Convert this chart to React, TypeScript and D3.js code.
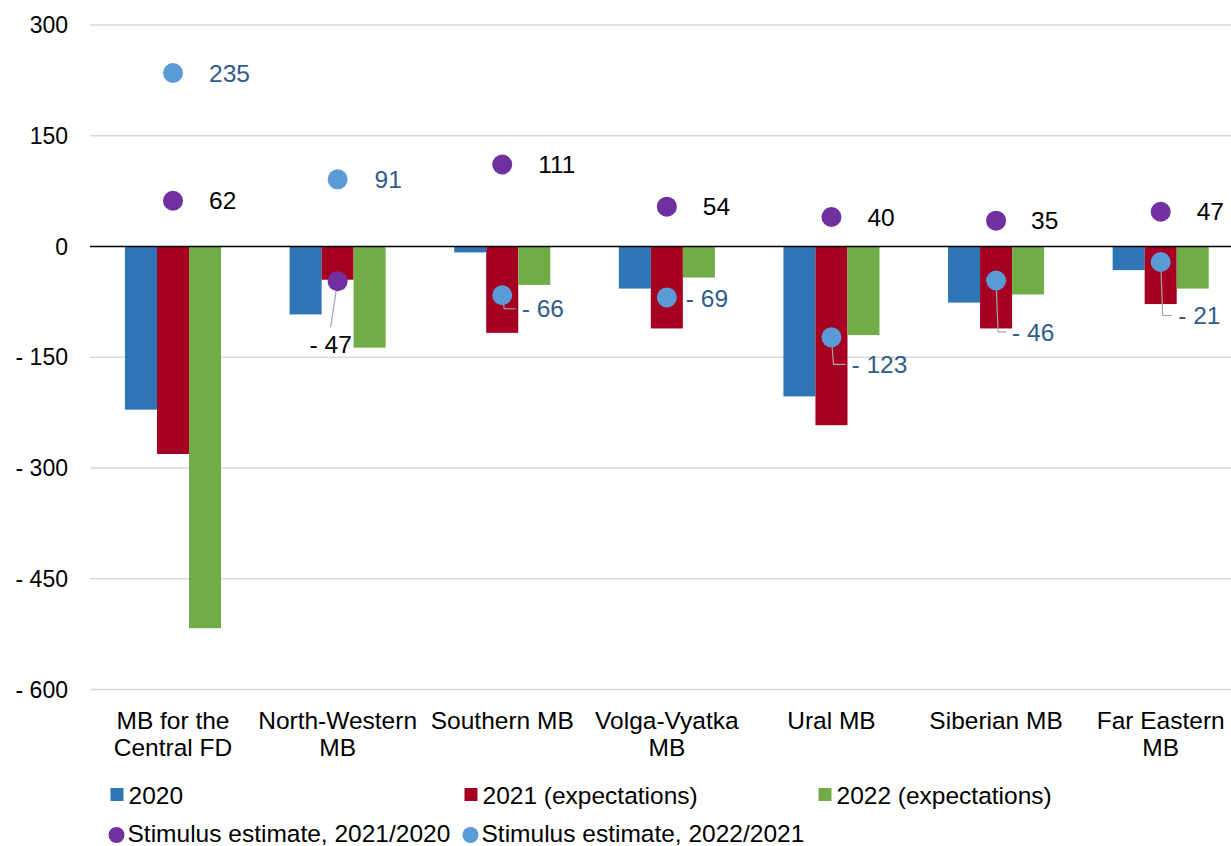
import React from 'react';
import * as d3 from 'd3';

// regions (category labels, split in lines as drawn)
const categories = [
  ['MB for the', 'Central FD'],
  ['North-Western', 'MB'],
  ['Southern MB'],
  ['Volga-Vyatka', 'MB'],
  ['Ural MB'],
  ['Siberian MB'],
  ['Far Eastern', 'MB'],
];

const values2020 = [-221, -92, -8, -57, -203, -76, -32];
const values2021 = [-281, -45, -117, -111, -242, -111, -78];
const values2022 = [-517, -137, -52, -42, -120, -65, -57];

const stimulus2021 = [62, -47, 111, 54, 40, 35, 47];
const stimulus2022 = [235, 91, -66, -69, -123, -46, -21];

const yTicks = [-600, -450, -300, -150, 0, 150, 300];

const barSeries = [
  { name: '2020', values: values2020, color: '#2E75B6' },
  { name: '2021 (expectations)', values: values2021, color: '#A50021' },
  { name: '2022 (expectations)', values: values2022, color: '#70AD47' },
];

// label placement for the point labels (relative to the point, px)
const labels2021 = [
  { dx: 36, dy: 0 },
  { dx: -28, dy: 63, leader: 'straight' },
  { dx: 36, dy: 0 },
  { dx: 36, dy: 0 },
  { dx: 36, dy: 0 },
  { dx: 35, dy: 0 },
  { dx: 36, dy: 0 },
];
const labels2022 = [
  { dx: 36, dy: 0 },
  { dx: 37, dy: 0 },
  { dx: 19.5, dy: 13.5, leader: 'elbow' },
  { dx: 19, dy: 1 },
  { dx: 20, dy: 27, leader: 'elbow' },
  { dx: 16, dy: 51.5, leader: 'elbow' },
  { dx: 17.5, dy: 53.5, leader: 'elbow' },
];

const pointSeries = [
  { name: 'Stimulus estimate, 2021/2020', values: stimulus2021, color: '#7030A0', text: '#000000', labels: labels2021 },
  { name: 'Stimulus estimate, 2022/2021', values: stimulus2022, color: '#5B9BD5', text: '#2F5C8A', labels: labels2022 },
];

const W = 1231;
const H = 846;
const FONT = '"Liberation Sans", Arial, sans-serif';

const fmt = (v: number) => (v < 0 ? '- ' + Math.abs(v) : String(v));

export default function App() {
  const idx = categories.map((_, i) => i);

  const x0 = d3.scaleBand<number>()
    .domain(idx)
    .range([90.7, 1243])
    .paddingInner(0)
    .paddingOuter(0);

  const x1 = d3.scaleBand<string>()
    .domain(barSeries.map(s => s.name))
    .range([0, x0.bandwidth()])
    .paddingInner(0)
    .paddingOuter(1.07);

  const y = d3.scaleLinear().domain([-600, 300]).range([689.5, 25]);

  const cx = (i: number) => (x0(i) as number) + x0.bandwidth() / 2;

  return (
    <svg width={W} height={H} style={{ position: 'absolute', left: 0, top: 0, background: '#fff' }}
      fontFamily={FONT}>
      {/* gridlines */}
      {yTicks.filter(t => t !== 0).map(t => (
        <line key={'g' + t} x1={90} x2={W} y1={y(t)} y2={y(t)} stroke="#D9D9D9" strokeWidth={1.3} />
      ))}
      {/* y tick labels */}
      {yTicks.map(t => (
        <text key={'t' + t} x={68} y={y(t)} dy="0.35em" textAnchor="end" fontSize={23} fill="#000">
          {fmt(t)}
        </text>
      ))}

      {/* bars */}
      {barSeries.map(s => (
        <g key={s.name}>
          {s.values.map((v, i) => (
            <rect key={i}
              x={(x0(i) as number) + (x1(s.name) as number)}
              y={y(Math.max(0, v))}
              width={x1.bandwidth()}
              height={Math.abs(y(v) - y(0))}
              fill={s.color} />
          ))}
        </g>
      ))}

      {/* zero line */}
      <line x1={90} x2={W} y1={y(0)} y2={y(0)} stroke="#000" strokeWidth={1.3} />

      {/* leader lines */}
      {pointSeries.map(s => (
        <g key={'l' + s.name} stroke="#A6A6A6" strokeWidth={1.2} fill="none">
          {s.values.map((v, i) => {
            const lab = s.labels[i];
            const px = cx(i);
            const py = y(v);
            const lx = px + lab.dx;
            const ly = py + lab.dy;
            if (lab.leader === 'elbow') {
              return <path key={i} d={`M${px},${py}L${px + 2},${ly}L${lx - 6},${ly}`} />;
            }
            if (lab.leader === 'straight') {
              return <path key={i} d={`M${px},${py}L${lx + 21},${ly - 17}`} />;
            }
            return null;
          })}
        </g>
      ))}

      {/* points */}
      {pointSeries.map(s => (
        <g key={'p' + s.name}>
          {s.values.map((v, i) => (
            <circle key={i} cx={cx(i)} cy={y(v)} r={10} fill={s.color} />
          ))}
        </g>
      ))}

      {/* point labels */}
      {pointSeries.map(s => (
        <g key={'t' + s.name}>
          {s.values.map((v, i) => {
            const lab = s.labels[i];
            return (
              <text key={i} x={cx(i) + lab.dx} y={y(v) + lab.dy} dy="0.35em" fontSize={24.5} fill={s.text}>
                {fmt(v)}
              </text>
            );
          })}
        </g>
      ))}

      {/* category labels */}
      {categories.map((lines, i) => (
        <text key={'c' + i} x={cx(i)} y={729} textAnchor="middle" fontSize={24.5} fill="#000">
          {lines.map((ln, j) => (
            <tspan key={j} x={cx(i)} dy={j === 0 ? 0 : 27}>{ln}</tspan>
          ))}
        </text>
      ))}

      {/* legend */}
      {barSeries.map((s, k) => (
        <g key={'lg' + s.name} transform={`translate(${110.5 + k * 354},0)`}>
          <rect x={0} y={788} width={13} height={13} fill={s.color} />
          <text x={18} y={803.5} fontSize={24.5} fill="#000">{s.name}</text>
        </g>
      ))}
      {pointSeries.map((s, k) => (
        <g key={'lp' + s.name} transform={`translate(${110.5 + k * 354},0)`}>
          <circle cx={6} cy={835} r={8} fill={s.color} />
          <text x={17} y={841.5} fontSize={24.5} fill="#000">{s.name}</text>
        </g>
      ))}
    </svg>
  );
}
